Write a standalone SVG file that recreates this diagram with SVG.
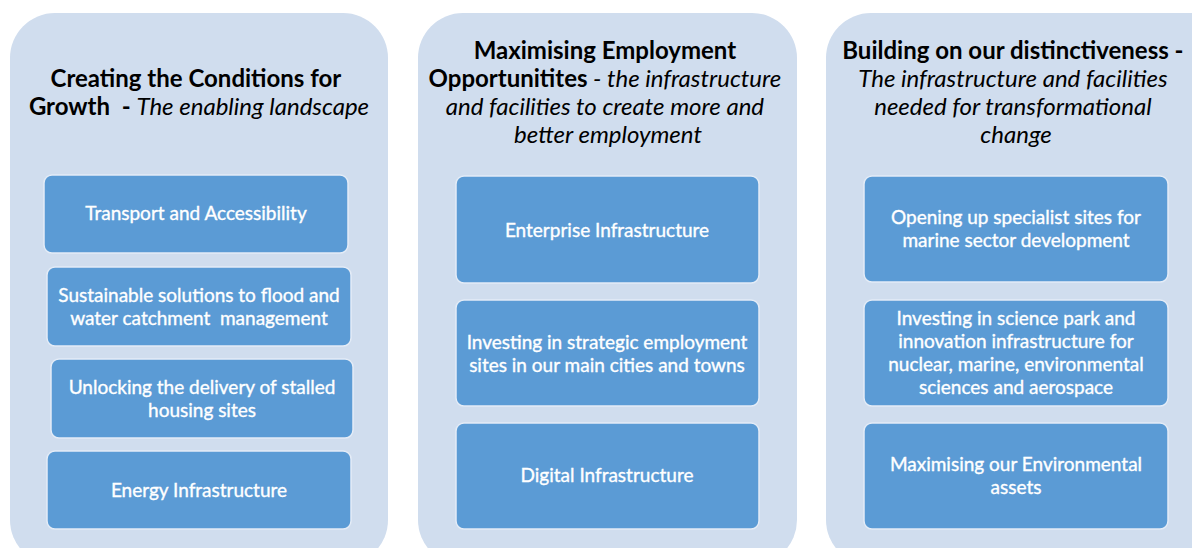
<svg xmlns="http://www.w3.org/2000/svg" width="1192" height="548" viewBox="0 0 1192 548">
  <style>
    .panel { fill: #D0DDEE; }
    .box { fill: #5B9BD5; stroke: #E4ECF7; stroke-width: 1.5; }
    .title { font-family: Lato, "Open Sans", sans-serif; font-size: 24px; fill: #000; text-anchor: middle; }
    .title .b { font-weight: bold; }
    .title .i { font-style: italic; }
    .label { font-family: Lato, "Open Sans", sans-serif; font-size: 19px; fill: #FFFFFF; stroke: #FFFFFF; stroke-width: 0.35; text-anchor: middle; }
  </style>

  <rect width="1192" height="548" fill="#FFFFFF"/>

  <!-- Column 1: Creating the Conditions for Growth -->
  <g id="panel-growth">
    <rect class="panel" x="10" y="13" width="378" height="552" rx="45"/>
    <text class="title">
      <tspan class="b" x="199" y="87">Creating the Conditions for</tspan>
      <tspan x="199" y="115"><tspan class="b">Growth&#160; - </tspan><tspan class="i">The enabling landscape</tspan></tspan>
    </text>
  </g>
  <g id="node-transport">
    <rect class="box" x="44" y="175" width="304" height="78" rx="8"/>
    <text class="label" x="196" y="220">Transport and Accessibility</text>
  </g>
  <g id="node-flood">
    <rect class="box" x="47" y="267" width="304" height="79" rx="8"/>
    <text class="label"><tspan x="199" y="302">Sustainable solutions to flood and</tspan><tspan x="199" y="325">water catchment&#160; management</tspan></text>
  </g>
  <g id="node-housing">
    <rect class="box" x="51" y="359" width="302" height="79" rx="8"/>
    <text class="label"><tspan x="202" y="394">Unlocking the delivery of stalled</tspan><tspan x="202" y="417">housing sites</tspan></text>
  </g>
  <g id="node-energy">
    <rect class="box" x="47" y="451" width="304" height="78" rx="8"/>
    <text class="label" x="199" y="497">Energy Infrastructure</text>
  </g>

  <!-- Column 2: Maximising Employment Opportunities -->
  <g id="panel-employment">
    <rect class="panel" x="418" y="13" width="379" height="552" rx="45"/>
    <text class="title">
      <tspan class="b" x="608" y="59">Maximising Employment</tspan>
      <tspan x="608" y="87"><tspan class="b">Opportunitites</tspan><tspan class="i"> - the infrastructure</tspan></tspan>
      <tspan class="i" x="608" y="115">and facilities to create more and</tspan>
      <tspan class="i" x="608" y="143">better employment</tspan>
    </text>
  </g>
  <g id="node-enterprise">
    <rect class="box" x="456" y="176" width="303" height="107" rx="8"/>
    <text class="label" x="607" y="237">Enterprise Infrastructure</text>
  </g>
  <g id="node-strategic">
    <rect class="box" x="456" y="300" width="303" height="106" rx="8"/>
    <text class="label"><tspan x="607" y="349">Investing in strategic employment</tspan><tspan x="607" y="372">sites in our main cities and towns</tspan></text>
  </g>
  <g id="node-digital">
    <rect class="box" x="456" y="423" width="303" height="106" rx="8"/>
    <text class="label" x="607" y="482">Digital Infrastructure</text>
  </g>

  <!-- Column 3: Building on our distinctiveness -->
  <g id="panel-distinctiveness">
    <rect class="panel" x="826" y="13" width="420" height="552" rx="45"/>
    <text class="title">
      <tspan class="b" x="1016" y="59">Building on our distinctiveness -</tspan>
      <tspan class="i" x="1016" y="87">The infrastructure and facilities</tspan>
      <tspan class="i" x="1016" y="115">needed for transformational</tspan>
      <tspan class="i" x="1016" y="143">change</tspan>
    </text>
  </g>
  <g id="node-marine">
    <rect class="box" x="864" y="176" width="304" height="106" rx="8"/>
    <text class="label"><tspan x="1016" y="224">Opening up specialist sites for</tspan><tspan x="1016" y="247">marine sector development</tspan></text>
  </g>
  <g id="node-science">
    <rect class="box" x="864" y="300" width="304" height="106" rx="8"/>
    <text class="label"><tspan x="1016" y="325">Investing in science park and</tspan><tspan x="1016" y="348">innovation infrastructure for</tspan><tspan x="1016" y="371">nuclear, marine, environmental</tspan><tspan x="1016" y="394">sciences and aerospace</tspan></text>
  </g>
  <g id="node-environmental">
    <rect class="box" x="864" y="423" width="304" height="106" rx="8"/>
    <text class="label"><tspan x="1016" y="471">Maximising our Environmental</tspan><tspan x="1016" y="494">assets</tspan></text>
  </g>

  <!-- No connectors between nodes -->
  <g id="connectors"/>
</svg>
